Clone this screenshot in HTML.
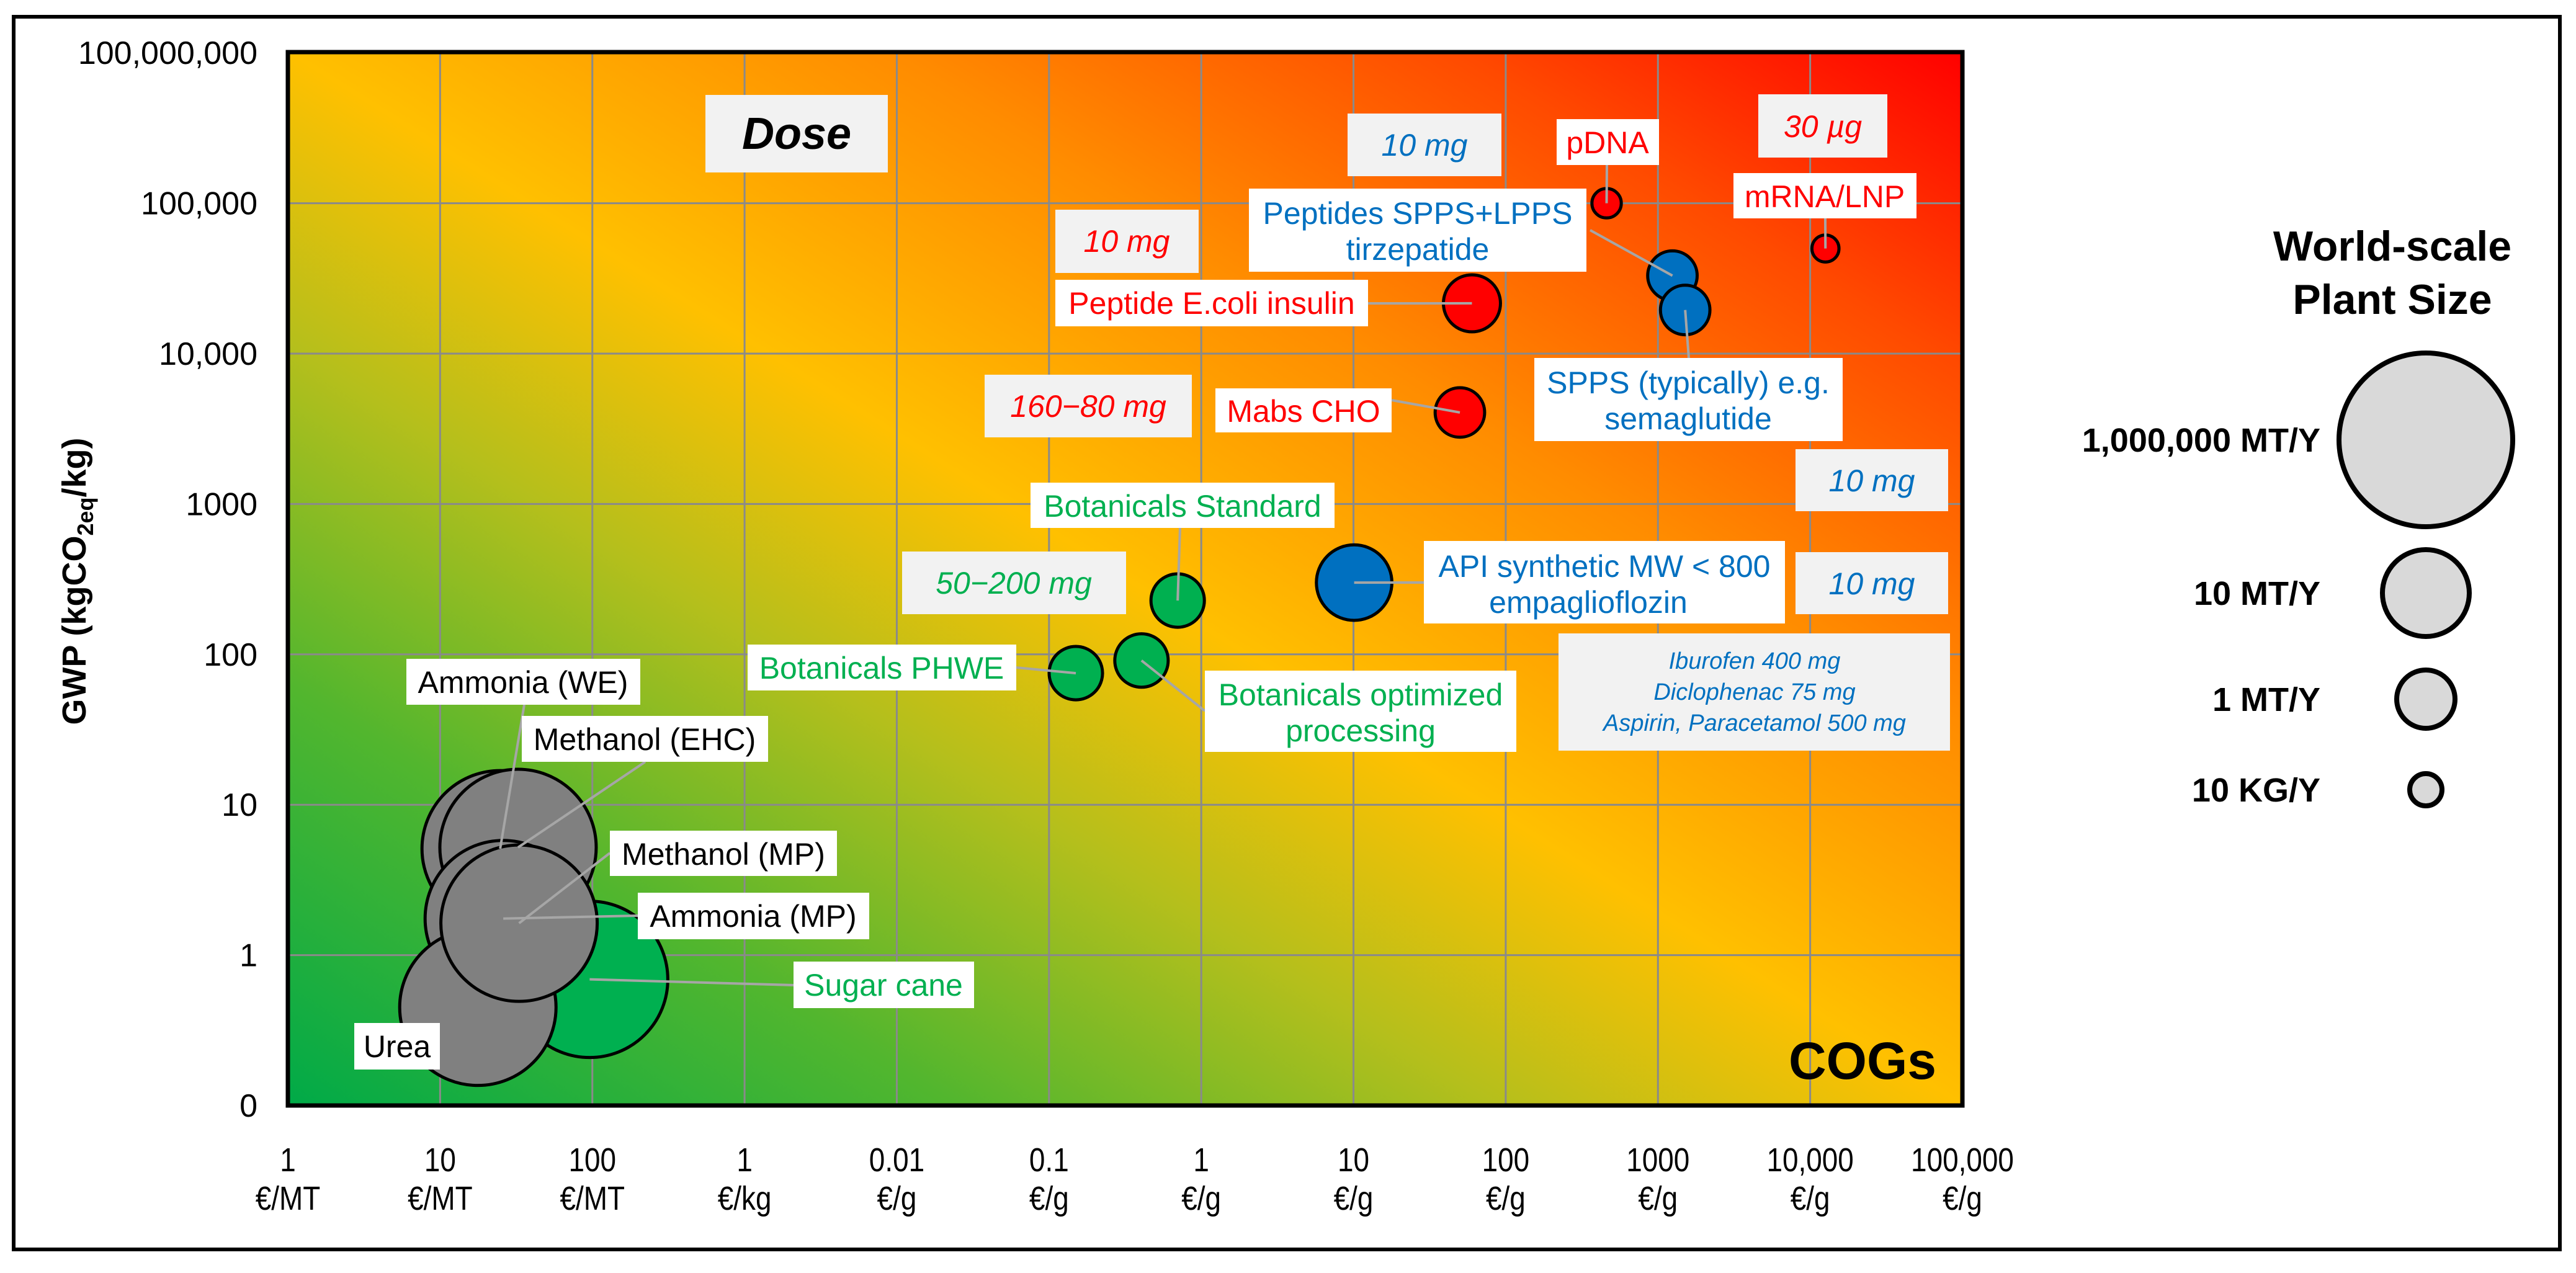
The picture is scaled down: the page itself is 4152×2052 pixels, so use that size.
<!DOCTYPE html>
<html><head><meta charset="utf-8"><style>
html,body{margin:0;padding:0;background:#fff;}
svg{display:block;font-family:"Liberation Sans",Arial,sans-serif;}
</style></head><body>
<svg id="chart" width="4152" height="2052" viewBox="0 0 4152 2052" xmlns="http://www.w3.org/2000/svg">
<defs>
<linearGradient id="bg" gradientUnits="userSpaceOnUse" x1="1048" y1="2149" x2="2578" y2="-283">
<stop offset="0" stop-color="#00aa48"/>
<stop offset="0.2" stop-color="#52b62e"/>
<stop offset="0.36" stop-color="#b4bf1c"/>
<stop offset="0.5" stop-color="#ffc000"/>
<stop offset="0.68" stop-color="#ff8c00"/>
<stop offset="0.85" stop-color="#ff4a00"/>
<stop offset="1" stop-color="#ff0000"/>
</linearGradient>
</defs>
<rect x="22" y="27" width="4104" height="1987" fill="#fff" stroke="#000" stroke-width="6"/>
<rect x="464" y="84" width="2699" height="1698" fill="url(#bg)"/>
<g id="grid"></g>
<g id="leaders"></g>
<g id="bubbles"></g>
<rect x="464" y="84" width="2699" height="1698" fill="none" stroke="#000" stroke-width="7"/>
<g id="ticks"></g>
<text transform="translate(138,937) rotate(-90)" text-anchor="middle" font-size="54" font-weight="bold">GWP (kgCO<tspan font-size="36" dy="12">2eq</tspan><tspan dy="-12">/kg)</tspan></text>

<g font-size="50" text-anchor="middle">
<rect x="1137" y="153" width="294" height="125" fill="#f2f2f2"/>
<text x="1284" y="240" font-size="72" font-weight="bold" font-style="italic">Dose</text>
<text x="3121" y="1739" font-size="84" font-weight="bold" text-anchor="end">COGs</text>

<rect x="2172" y="183" width="248" height="101" fill="#f2f2f2"/><text x="2296" y="251" fill="#0070c0" font-style="italic">10 mg</text>
<rect x="2509" y="192" width="165" height="74" fill="#fff"/><text x="2591" y="247" fill="#ff0000">pDNA</text>
<rect x="2834" y="152" width="208" height="102" fill="#f2f2f2"/><text x="2938" y="221" fill="#ff0000" font-style="italic">30 µg</text>
<rect x="2794" y="279" width="295" height="73" fill="#fff"/><text x="2941" y="334" fill="#ff0000">mRNA/LNP</text>
<rect x="2013" y="304" width="544" height="134" fill="#fff"/><text x="2285" y="361" fill="#0070c0">Peptides SPPS+LPPS</text><text x="2285" y="419" fill="#0070c0">tirzepatide</text>
<rect x="1701" y="338" width="231" height="102" fill="#f2f2f2"/><text x="1816" y="406" fill="#ff0000" font-style="italic">10 mg</text>
<rect x="1701" y="451" width="504" height="75" fill="#fff"/><text x="1953" y="506" fill="#ff0000">Peptide E.coli insulin</text>
<rect x="2473" y="577" width="497" height="134" fill="#fff"/><text x="2721" y="634" fill="#0070c0">SPPS (typically) e.g.</text><text x="2721" y="692" fill="#0070c0">semaglutide</text>
<rect x="1587" y="604" width="334" height="101" fill="#f2f2f2"/><text x="1754" y="672" fill="#ff0000" font-style="italic">160−80 mg</text>
<rect x="1959" y="626" width="284" height="71" fill="#fff"/><text x="2101" y="680" fill="#ff0000">Mabs CHO</text>
<rect x="2894" y="724" width="246" height="100" fill="#f2f2f2"/><text x="3017" y="792" fill="#0070c0" font-style="italic">10 mg</text>
<rect x="1661" y="778" width="490" height="73" fill="#fff"/><text x="1906" y="833" fill="#00b050">Botanicals Standard</text>
<rect x="1454" y="889" width="361" height="101" fill="#f2f2f2"/><text x="1634" y="957" fill="#00b050" font-style="italic">50−200 mg</text>
<rect x="2295" y="872" width="582" height="133" fill="#fff"/><text x="2586" y="930" fill="#0070c0">API synthetic MW &lt; 800</text><text x="2560" y="988" fill="#0070c0">empaglioflozin</text>
<rect x="2894" y="890" width="246" height="100" fill="#f2f2f2"/><text x="3017" y="958" fill="#0070c0" font-style="italic">10 mg</text>
<rect x="2512" y="1021" width="631" height="189" fill="#f2f2f2"/>
<text x="2828" y="1078" fill="#0070c0" font-style="italic" font-size="38">Iburofen 400 mg</text>
<text x="2828" y="1128" fill="#0070c0" font-style="italic" font-size="38">Diclophenac 75 mg</text>
<text x="2828" y="1178" fill="#0070c0" font-style="italic" font-size="38">Aspirin, Paracetamol 500 mg</text>
<rect x="1942" y="1081" width="502" height="131" fill="#fff"/><text x="2193" y="1137" fill="#00b050">Botanicals optimized</text><text x="2193" y="1195" fill="#00b050">processing</text>
<rect x="1205" y="1039" width="433" height="74" fill="#fff"/><text x="1421" y="1094" fill="#00b050">Botanicals PHWE</text>
<rect x="655" y="1062" width="377" height="74" fill="#fff"/><text x="843" y="1117" fill="#000">Ammonia (WE)</text>
<rect x="841" y="1154" width="397" height="74" fill="#fff"/><text x="1039" y="1209" fill="#000">Methanol (EHC)</text>
<rect x="983" y="1339" width="366" height="73" fill="#fff"/><text x="1166" y="1394" fill="#000">Methanol (MP)</text>
<rect x="1028" y="1439" width="373" height="75" fill="#fff"/><text x="1214" y="1494" fill="#000">Ammonia (MP)</text>
<rect x="1279" y="1550" width="291" height="75" fill="#fff"/><text x="1424" y="1605" fill="#00b050">Sugar cane</text>
<rect x="571" y="1649" width="138" height="75" fill="#fff"/><text x="640" y="1704" fill="#000">Urea</text>
</g>

<g font-weight="bold">
<text x="3856" y="420" font-size="68" text-anchor="middle">World-scale</text>
<text x="3856" y="506" font-size="68" text-anchor="middle">Plant Size</text>
<g id="legend"></g>
</g>
<script>
// ---- data ----
const names = ["Ammonia (WE)","Methanol (EHC)","Ammonia (MP)","Sugar cane","Urea","Methanol (MP)","Botanicals PHWE","Botanicals optimized","Botanicals Standard","API synthetic","Mabs CHO","Peptide E.coli insulin","Peptides SPPS+LPPS","SPPS semaglutide","pDNA","mRNA/LNP"];
const cogsEurPerGram = [2.48e-5,3.25e-5,2.6e-5,9.6e-5,1.77e-5,3.3e-5,0.15,0.405,0.70,10.1,50,60,1245,1510,460,12600];
const gwpValues = [5.1,5.2,1.75,0.69,0.45,1.63,75,91,228,300,4060,21600,33000,19500,100000,50000];
const plantSizeMT = [1e5,1e5,1e5,1e5,1e5,1e5,0.42,0.42,0.42,4,0.21,0.8,0.21,0.21,0.006,0.004];
const groups = ["commodity","commodity","commodity","green","commodity","commodity","green","green","green","blue","red","red","blue","blue","red","red"];
const xTickValues = [1e-6,1e-5,1e-4,1e-3,1e-2,1e-1,1,10,100,1000,10000,100000];
const xTickTop = ["1","10","100","1","0.01","0.1","1","10","100","1000","10,000","100,000"];
const xTickUnit = ["€/MT","€/MT","€/MT","€/kg","€/g","€/g","€/g","€/g","€/g","€/g","€/g","€/g"];
const yTickValues = [0.1,1,10,100,1000,10000,100000,100000000];
const yTickLabels = ["0","1","10","100","1000","10,000","100,000","100,000,000"];
const legendSizes = [1e6,10,1,0.01];
const legendLabels = ["1,000,000 MT/Y","10 MT/Y","1 MT/Y","10 KG/Y"];
// ---- scales ----
const X0=464, X1=3163, Y0=1782, STEP=242.4;
function xs(v){return X0+(Math.log10(v)+6)*(X1-X0)/11;}
function ys(v){const l=Math.log10(v);const j=l<=5?l+1:6+(l-5)/3;return Y0-j*STEP;}
function rs(s){const l=Math.log10(s);
  if(l>=1) return 70+(l-1)*14;
  if(l>=0) return 47+l*23;
  return 47+l*10.5;}
const fills={commodity:"#808080",green:"#00b050",blue:"#0070c0",red:"#ff0000"};
const NS="http://www.w3.org/2000/svg";
function mk(t,a,p){const e=document.createElementNS(NS,t);for(const k in a)e.setAttribute(k,a[k]);p.appendChild(e);return e;}
// grid + ticks
const grid=document.getElementById('grid'), ticks=document.getElementById('ticks');
xTickValues.forEach((v,i)=>{
  const x=xs(v);
  const gl=mk('line',{x1:x,x2:x,y1:84,y2:1782,stroke:'#8a8a8a','stroke-width':3},grid);
  
  
  const t=mk('text',{x:0,y:0,'font-size':54,'text-anchor':'middle',transform:'translate('+x+',1888) scale(0.85,1)'},ticks);
  t.textContent=xTickTop[i];
  
  
  const u=mk('text',{x:0,y:0,'font-size':54,'text-anchor':'middle',transform:'translate('+x+',1950) scale(0.85,1)'},ticks);
  u.textContent=xTickUnit[i];
  
  
});
yTickValues.forEach((v,i)=>{
  const y=ys(v);
  const gl=mk('line',{x1:464,x2:3163,y1:y,y2:y,stroke:'#8a8a8a','stroke-width':3},grid);
  
  
  const t=mk('text',{x:415,y:y+18,'font-size':52,'text-anchor':'end'},ticks);
  t.textContent=yTickLabels[i];
  
  
});
// bubbles
const bg=document.getElementById('bubbles');
names.forEach((n,i)=>{
  const c=mk('circle',{cx:xs(cogsEurPerGram[i]),cy:ys(gwpValues[i]),r:rs(plantSizeMT[i]),fill:fills[groups[i]],stroke:'#000','stroke-width':5},bg);
  
  
});
// leader lines (label anchor -> bubble center)
const leaderFrom=[[845,1136],[1040,1228],[1028,1476],[1279,1588],null,[983,1375],[1638,1076],[1942,1146],[1902,851],[2295,939],[2243,645],[2205,489],[2563,371],[2722,577],[2590,266],[2942,352]];
const lg=document.getElementById('leaders');
leaderFrom.forEach((p,i)=>{
  if(!p) return;
  const cx=xs(cogsEurPerGram[i]), cy=ys(gwpValues[i]);
  const l=mk('line',{x1:p[0],y1:p[1],x2:cx,y2:cy,stroke:'#a6a6a6','stroke-width':4},lg);
  
  
});
document.getElementById('chart').insertBefore(lg, bg.nextSibling);
// legend
const leg=document.getElementById('legend');
const legY=[709,956,1127,1273];
legendSizes.forEach((s,i)=>{
  const c=mk('circle',{cx:3910,cy:legY[i],r:rs(s),fill:'#d9d9d9',stroke:'#000','stroke-width':8},leg);
  
  
  const t=mk('text',{x:3740,y:legY[i]+19,'font-size':54,'text-anchor':'end'},leg);
  t.textContent=legendLabels[i];
  
  
});
</script>
</svg>
</body></html>
